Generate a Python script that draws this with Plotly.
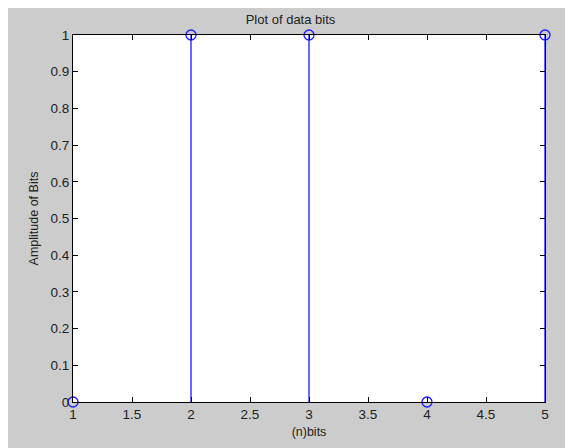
import plotly.graph_objects as go

bits_n = [1, 2, 3, 4, 5]
bit_values = [0, 1, 1, 0, 1]
x_ticks = [1, 1.5, 2, 2.5, 3, 3.5, 4, 4.5, 5]
x_tick_labels = ["1", "1.5", "2", "2.5", "3", "3.5", "4", "4.5", "5"]
y_ticks = [0, 0.1, 0.2, 0.3, 0.4, 0.5, 0.6, 0.7, 0.8, 0.9, 1]
y_tick_labels = ["0", "0.1", "0.2", "0.3", "0.4", "0.5", "0.6", "0.7", "0.8", "0.9", "1"]

# page has an 8px body margin; figure drawn from (8, 8)
W, H = 565, 440
ML, MR, MT, MB = 65, 28, 27, 46

stem_x, stem_y = [], []
for xv, yv in zip(bits_n, bit_values):
    stem_x += [xv, xv, None]
    stem_y += [0, yv, None]

FONT = "Liberation Sans, Arial"

fig = go.Figure()
fig.add_trace(go.Scatter(x=stem_x, y=stem_y, mode="lines",
                         line=dict(color="#1a1aff", width=1.3),
                         hoverinfo="skip", showlegend=False, cliponaxis=False))
fig.add_trace(go.Scatter(x=bits_n, y=bit_values, mode="markers",
                         marker=dict(symbol="circle-open", size=10,
                                     color="#1a1aff", line=dict(width=1.3)),
                         showlegend=False, cliponaxis=False))

axis_common = dict(showgrid=False, zeroline=False, showline=True,
                   linecolor="#000000", linewidth=1, mirror="ticks",
                   ticks="inside", ticklen=5, tickcolor="#000000",
                   tickfont=dict(family=FONT, size=13.5, color="#222222"))

fig.update_xaxes(range=[1, 5], tickvals=x_ticks, ticktext=x_tick_labels,
                 title=dict(text="(n)bits", standoff=6,
                            font=dict(family=FONT, size=12.5, color="#222222")),
                 **axis_common)
fig.update_yaxes(range=[0, 1], tickvals=y_ticks, ticktext=y_tick_labels,
                 title=dict(text="Amplitude of Bits", standoff=9,
                            font=dict(family=FONT, size=12.5, color="#222222")),
                 **axis_common)

fig.update_layout(
    width=W, height=H,
    margin=dict(l=ML, r=MR, t=MT, b=MB),
    paper_bgcolor="#cccccc", plot_bgcolor="#ffffff",
    title=dict(text="Plot of data bits", x=0.5, xanchor="center",
               y=1 - 11 / H, yanchor="middle",
               font=dict(family=FONT, size=13, color="#222222")),
)

fig.write_html("out.html")
